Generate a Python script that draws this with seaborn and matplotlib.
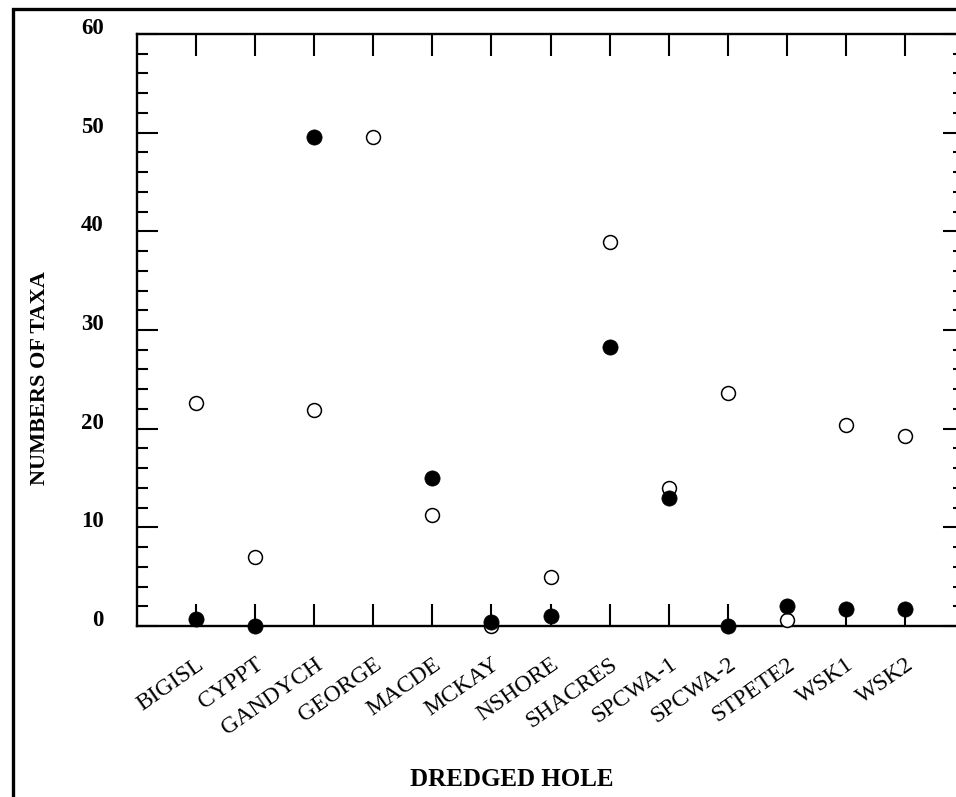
import numpy as np
import pandas as pd
import seaborn as sns
import matplotlib.pyplot as plt
from matplotlib.patches import Rectangle
from matplotlib.ticker import MultipleLocator

# data
holes = ['BIGISL', 'CYPPT', 'GANDYCH', 'GEORGE', 'MACDE', 'MCKAY', 'NSHORE',
         'SHACRES', 'SPCWA-1', 'SPCWA-2', 'STPETE2', 'WSK1', 'WSK2']
taxa_open = [22.6, 7.0, 21.9, 49.6, 11.3, 0.0, 5.0, 38.9, 14.0, 23.6, 0.6, 20.4, 19.3]
taxa_filled = [0.7, 0.0, 49.6, np.nan, 15.0, 0.4, 1.0, 28.3, 13.0, 0.0, 2.0, 1.7, 1.7]
y_ticks = [0, 10, 20, 30, 40, 50, 60]

df = pd.DataFrame({'hole': holes, 'open': taxa_open, 'filled': taxa_filled})

sns.set_style("ticks", {'axes.edgecolor': 'black', 'text.color': 'black',
                        'xtick.color': 'black', 'ytick.color': 'black',
                        'axes.labelcolor': 'black'})
plt.rcParams['font.family'] = ['Liberation Serif', 'DejaVu Serif']

fig = plt.figure(figsize=(9.56, 7.97), dpi=100)
ax = fig.add_axes([137/956, 1 - 626/797, (964 - 137)/956, (626 - 34)/797])

sns.scatterplot(data=df, x='hole', y='open', ax=ax, marker='o', s=100,
                color='white', edgecolor='black', linewidth=1.1,
                zorder=5, clip_on=False)
sns.scatterplot(data=df, x='hole', y='filled', ax=ax, marker='o', s=120,
                color='black', edgecolor='black', linewidth=0.5,
                zorder=6, clip_on=False)

ax.set_xlim(-1, 13)
ax.set_ylim(0, 60)
ax.set_yticks(y_ticks)
ax.yaxis.set_minor_locator(MultipleLocator(2))
ax.set_xlabel('')
ax.set_ylabel('')

for sp in ax.spines.values():
    sp.set_linewidth(1.7)
    sp.set_color('black')
    sp.set_visible(True)

ax.tick_params(which='both', direction='in', top=True, right=True,
               width=1.5, color='black', labelcolor='black')
ax.tick_params(axis='x', which='major', length=16, pad=20)
ax.tick_params(axis='y', which='major', length=15, pad=24)
ax.tick_params(axis='y', which='minor', length=8)

for lab in ax.get_yticklabels():
    lab.set_fontsize(16.5)
    lab.set_fontweight('bold')
    lab.set_verticalalignment('baseline')

ax.set_xticks(range(len(holes)))
ax.set_xticklabels(holes)
plt.setp(ax.get_xticklabels(), rotation=35, ha='right', va='top',
         rotation_mode='anchor', fontsize=17, color='black')

fig.text(40/956, 1 - 378/797, 'NUMBERS OF TAXA', rotation=90, ha='center',
         va='center', fontsize=16, fontweight='bold', color='black')
fig.text(512/956, 1 - 780/797, 'DREDGED HOLE', ha='center', va='center',
         fontsize=18, fontweight='bold', color='black')

fig.add_artist(Rectangle((12.5/956, -0.2), 1.2, 1.2 - 9/797,
                         transform=fig.transFigure, fill=False,
                         edgecolor='black', linewidth=2.4))

fig.savefig('out.png', dpi=100)
